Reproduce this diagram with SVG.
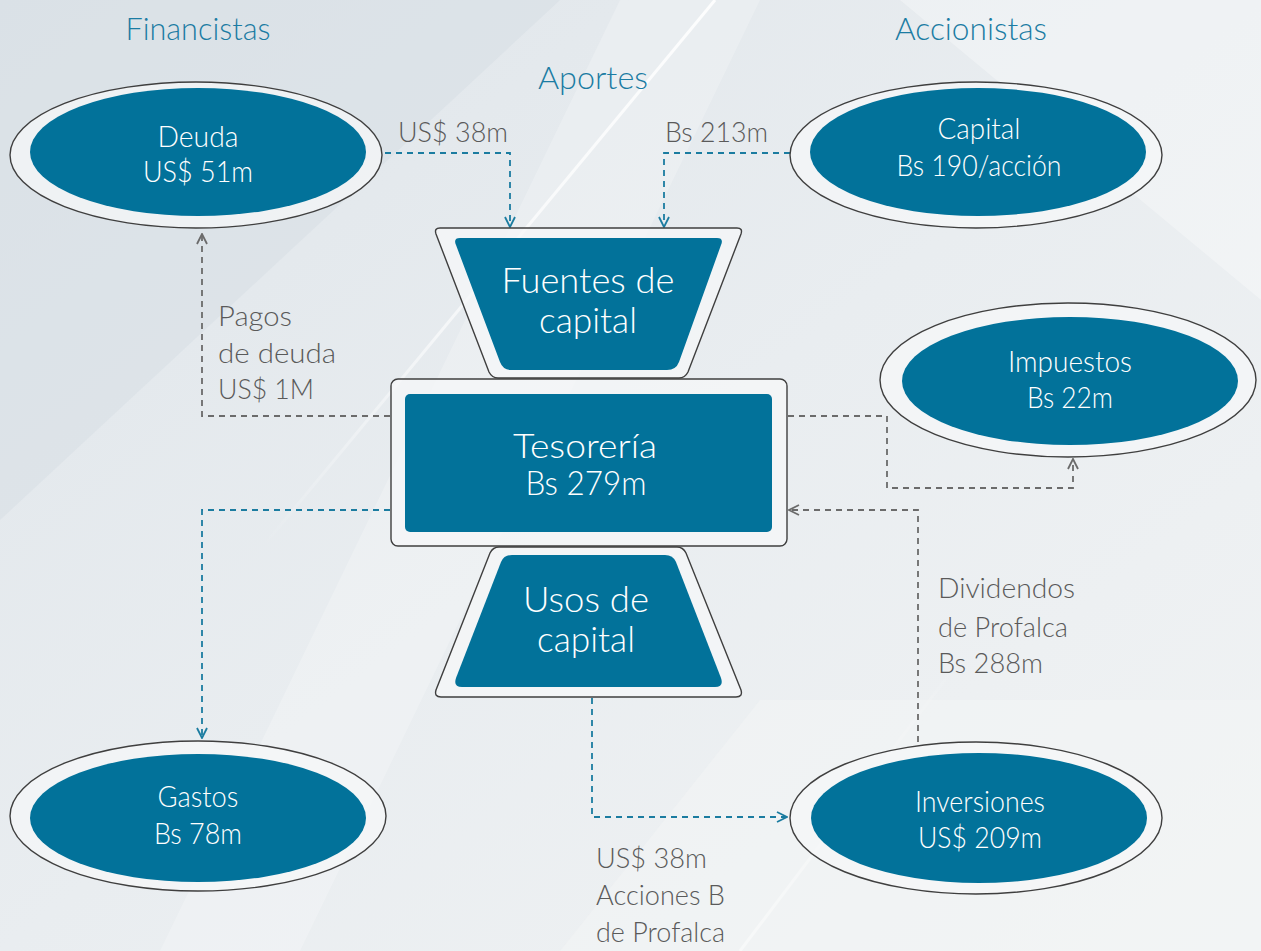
<svg xmlns="http://www.w3.org/2000/svg" width="1261" height="951" viewBox="0 0 1261 951">
<defs>
<linearGradient id="bg" x1="0" y1="0" x2="1" y2="1">
<stop offset="0" stop-color="#dfe5ea"/>
<stop offset="0.5" stop-color="#e9edf0"/>
<stop offset="1" stop-color="#f1f3f4"/>
</linearGradient>
<linearGradient id="streak" x1="715" y1="0" x2="260" y2="550" gradientUnits="userSpaceOnUse">
<stop offset="0" stop-color="#ffffff" stop-opacity="0.9"/>
<stop offset="0.6" stop-color="#ffffff" stop-opacity="0.6"/>
<stop offset="1" stop-color="#ffffff" stop-opacity="0"/>
</linearGradient>
<linearGradient id="streak2" x1="740" y1="951" x2="960" y2="660" gradientUnits="userSpaceOnUse">
<stop offset="0" stop-color="#ffffff" stop-opacity="0.8"/>
<stop offset="1" stop-color="#ffffff" stop-opacity="0"/>
</linearGradient>
<marker id="aT" viewBox="0 0 12 12" refX="11" refY="6" markerWidth="12" markerHeight="12" markerUnits="userSpaceOnUse" orient="auto">
<path d="M1,1 L11,6 L1,11" fill="none" stroke="#1b7ca0" stroke-width="1.8"/>
</marker>
<marker id="aG" viewBox="0 0 12 12" refX="11" refY="6" markerWidth="12" markerHeight="12" markerUnits="userSpaceOnUse" orient="auto">
<path d="M1,1 L11,6 L1,11" fill="none" stroke="#6b6b6b" stroke-width="1.8"/>
</marker>
</defs>
<style>
.outer{fill:#f5f7f8;fill-opacity:0.75;stroke:#3f3f3f;stroke-width:1.4}
.inner{fill:#02729a}
.wt{font-family:Lato,"Open Sans","Liberation Sans",sans-serif;font-weight:300;fill:#ffffff;text-anchor:middle}
.gt{font-family:Lato,"Open Sans","Liberation Sans",sans-serif;font-weight:300;fill:#5a5a5a;font-size:28px}
.tt{font-family:Lato,"Open Sans","Liberation Sans",sans-serif;font-weight:300;fill:#1b7ca3;font-size:31px;text-anchor:middle}
.ct{fill:none;stroke:#1b7ca0;stroke-width:1.8;stroke-dasharray:6 5}
.cg{fill:none;stroke:#6b6b6b;stroke-width:1.8;stroke-dasharray:6 5}
</style>
<rect x="0" y="0" width="1261" height="951" fill="url(#bg)"/>
<polygon points="0,0 560,0 0,520" fill="#d6dde3" opacity="0.5"/>
<polygon points="620,0 760,0 300,951 160,951" fill="#ffffff" opacity="0.22"/>
<line x1="715" y1="0" x2="260" y2="550" stroke="url(#streak)" stroke-width="3"/>
<line x1="740" y1="951" x2="960" y2="660" stroke="url(#streak2)" stroke-width="3"/>
<polygon points="900,0 1261,0 1261,300" fill="#ffffff" opacity="0.3"/>
<polygon points="560,951 760,700 1261,700 1261,951" fill="#f3f5f6" opacity="0.5"/>

<text class="tt" x="198" y="40" textLength="145" lengthAdjust="spacingAndGlyphs">Financistas</text>
<text class="tt" x="971" y="40" textLength="152" lengthAdjust="spacingAndGlyphs">Accionistas</text>
<text class="tt" x="593" y="89" textLength="110" lengthAdjust="spacingAndGlyphs">Aportes</text>

<g id="connectors">
<path class="ct" d="M385,153 H510 V227" marker-end="url(#aT)"/>
<path class="ct" d="M790,153 H664 V227" marker-end="url(#aT)"/>
<path class="cg" d="M390,416 H202 V234" marker-end="url(#aG)"/>
<path class="cg" d="M788,416 H887 V488 H1073 V459" marker-end="url(#aG)"/>
<path class="cg" d="M918,742 V510 H789" marker-end="url(#aG)"/>
<path class="ct" d="M390,510 H202 V738" marker-end="url(#aT)"/>
<path class="ct" d="M592,698 V817 H787" marker-end="url(#aT)"/>
<text class="gt" x="398" y="142" textLength="110" lengthAdjust="spacingAndGlyphs">US$ 38m</text>
<text class="gt" x="665" y="142" textLength="103" lengthAdjust="spacingAndGlyphs">Bs 213m</text>
<text class="gt" x="218" y="326" textLength="74" lengthAdjust="spacingAndGlyphs">Pagos</text>
<text class="gt" x="218" y="363" textLength="118" lengthAdjust="spacingAndGlyphs">de deuda</text>
<text class="gt" x="218" y="399" textLength="96" lengthAdjust="spacingAndGlyphs">US$ 1M</text>
<text class="gt" x="938" y="598" textLength="137" lengthAdjust="spacingAndGlyphs">Dividendos</text>
<text class="gt" x="938" y="637" textLength="130" lengthAdjust="spacingAndGlyphs">de Profalca</text>
<text class="gt" x="938" y="673" textLength="105" lengthAdjust="spacingAndGlyphs">Bs 288m</text>
<text class="gt" x="596" y="868" textLength="111" lengthAdjust="spacingAndGlyphs">US$ 38m</text>
<text class="gt" x="596" y="905" textLength="129" lengthAdjust="spacingAndGlyphs">Acciones B</text>
<text class="gt" x="596" y="942" textLength="129" lengthAdjust="spacingAndGlyphs">de Profalca</text>
</g>

<g id="deuda">
<ellipse class="outer" cx="196" cy="155" rx="186" ry="73"/>
<ellipse class="inner" cx="198" cy="152" rx="168" ry="64"/>
<text class="wt" x="198" y="147" font-size="29" textLength="81" lengthAdjust="spacingAndGlyphs">Deuda</text>
<text class="wt" x="198" y="182" font-size="29" textLength="110" lengthAdjust="spacingAndGlyphs">US$ 51m</text>
</g>

<g id="capital">
<ellipse class="outer" cx="976" cy="155" rx="186" ry="73"/>
<ellipse class="inner" cx="978" cy="152" rx="168" ry="64"/>
<text class="wt" x="979" y="139" font-size="29" textLength="83" lengthAdjust="spacingAndGlyphs">Capital</text>
<text class="wt" x="979" y="176" font-size="29" textLength="165" lengthAdjust="spacingAndGlyphs">Bs 190/acción</text>
</g>

<g id="impuestos">
<ellipse class="outer" cx="1068" cy="380" rx="188" ry="77"/>
<ellipse class="inner" cx="1070" cy="381" rx="168" ry="64"/>
<text class="wt" x="1070" y="372" font-size="29" textLength="124" lengthAdjust="spacingAndGlyphs">Impuestos</text>
<text class="wt" x="1070" y="408" font-size="29" textLength="86" lengthAdjust="spacingAndGlyphs">Bs 22m</text>
</g>

<g id="gastos">
<ellipse class="outer" cx="198" cy="816" rx="188" ry="75"/>
<ellipse class="inner" cx="198" cy="818" rx="168" ry="64"/>
<text class="wt" x="198" y="807" font-size="29" textLength="81" lengthAdjust="spacingAndGlyphs">Gastos</text>
<text class="wt" x="198" y="844" font-size="29" textLength="88" lengthAdjust="spacingAndGlyphs">Bs 78m</text>
</g>

<g id="inversiones">
<ellipse class="outer" cx="976" cy="818" rx="186" ry="76"/>
<ellipse class="inner" cx="979" cy="818" rx="168" ry="65"/>
<text class="wt" x="980" y="812" font-size="29" textLength="130" lengthAdjust="spacingAndGlyphs">Inversiones</text>
<text class="wt" x="980" y="848" font-size="29" textLength="124" lengthAdjust="spacingAndGlyphs">US$ 209m</text>
</g>

<g id="fuentes">
<path class="outer" d="M440,228 H737 Q743,228 741,234 L688,372 Q685,378 679,378 H498 Q492,378 489,372 L436,234 Q434,228 440,228 Z"/>
<path class="inner" d="M460,238 H717 Q724,238 721,245 L679,362 Q676,370 667,370 H511 Q503,370 500,362 L456,245 Q453,238 460,238 Z"/>
<text class="wt" x="588" y="293" font-size="35" textLength="173" lengthAdjust="spacingAndGlyphs">Fuentes de</text>
<text class="wt" x="588" y="333" font-size="35" textLength="98" lengthAdjust="spacingAndGlyphs">capital</text>
</g>

<g id="tesoreria">
<rect class="outer" x="391" y="379" width="396" height="167" rx="7"/>
<rect class="inner" x="405" y="394" width="367" height="138" rx="5"/>
<text class="wt" x="585" y="458" font-size="33" textLength="144" lengthAdjust="spacingAndGlyphs">Tesorería</text>
<text class="wt" x="586" y="495" font-size="33" textLength="121" lengthAdjust="spacingAndGlyphs">Bs 279m</text>
</g>

<g id="usos">
<path class="outer" d="M499,547 H677 Q683,547 686,553 L741,690 Q743,697 736,697 H441 Q434,697 436,690 L490,553 Q493,547 499,547 Z"/>
<path class="inner" d="M512,555 H665 Q673,555 676,562 L721,678 Q724,687 715,687 H462 Q453,687 456,678 L501,562 Q504,555 512,555 Z"/>
<text class="wt" x="586" y="612" font-size="35" textLength="126" lengthAdjust="spacingAndGlyphs">Usos de</text>
<text class="wt" x="586" y="652" font-size="35" textLength="98" lengthAdjust="spacingAndGlyphs">capital</text>
</g>
</svg>
